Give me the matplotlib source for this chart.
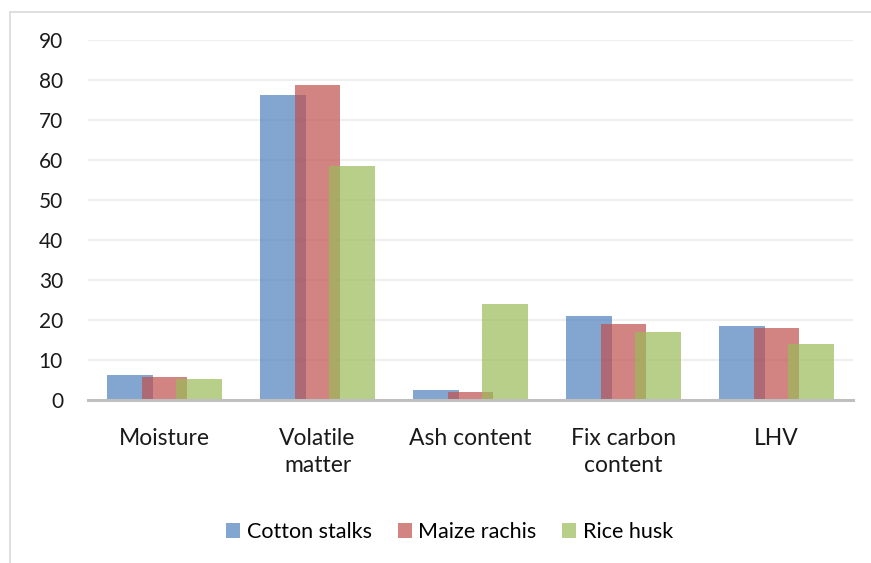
import matplotlib
matplotlib.use("Agg")
import matplotlib.pyplot as plt
from matplotlib.patches import Rectangle
import numpy as np

categories = ["Moisture", "Volatile\nmatter", "Ash content", "Fix carbon\ncontent", "LHV"]
series_names = ["Cotton stalks", "Maize rachis", "Rice husk"]
cotton = [6.2, 76.2, 2.4, 20.9, 18.6]
maize = [5.8, 78.7, 2.0, 18.9, 17.9]
rice = [5.2, 58.5, 24.1, 17.0, 14.0]
yticks = [0, 10, 20, 30, 40, 50, 60, 70, 80, 90]

colors = ["#4F81BD", "#C0504D", "#9BBB59"]

plt.rcParams['font.family'] = ['Lato', 'DejaVu Sans']

fig = plt.figure(figsize=(8.71, 5.63), dpi=100)
fig.patches.append(Rectangle((10/871, -0.1), 1.0, 1 - 12/563 + 0.1, transform=fig.transFigure,
                             fill=False, edgecolor="#D9D9D9", linewidth=1.2))
ax = fig.add_axes([88/871, 1 - 400/563, (853 - 88)/871, 360/563])

x = np.arange(len(categories))
w = 0.30
off = 0.225
for k, (vals, name) in enumerate(zip([cotton, maize, rice], series_names)):
    ax.bar(x + (k - 1) * off, vals, width=w, color=colors[k], alpha=0.7,
           label=name, zorder=3, linewidth=0)

ax.set_xlim(-0.5, len(categories) - 0.5)
ax.set_ylim(0, 90)
ax.set_yticks(yticks)
ax.set_yticklabels([str(v) for v in yticks], fontsize=15)
ax.set_xticks(x)
ax.set_xticklabels(categories, linespacing=1.35, fontsize=16.5)
ax.grid(axis='y', color="#EFEFEF", linewidth=1.5, zorder=0)
ax.set_axisbelow(True)
for s in ['top', 'right', 'left']:
    ax.spines[s].set_visible(False)
ax.spines['bottom'].set_color("#BFBFBF")
ax.spines['bottom'].set_linewidth(2.2)
ax.spines['bottom'].set_zorder(4)
ax.tick_params(axis='both', length=0, colors="#1a1a1a")
ax.tick_params(axis='y', pad=18)
ax.tick_params(axis='x', pad=20)

fig.legend(loc='center', bbox_to_anchor=(449.5/871, 1 - 532/563), ncol=3, frameon=False,
           fontsize=15.5, handlelength=0.65, handleheight=0.65, handletextpad=0.3,
           columnspacing=1.2, borderaxespad=0)

fig.savefig("out.png", dpi=100)
